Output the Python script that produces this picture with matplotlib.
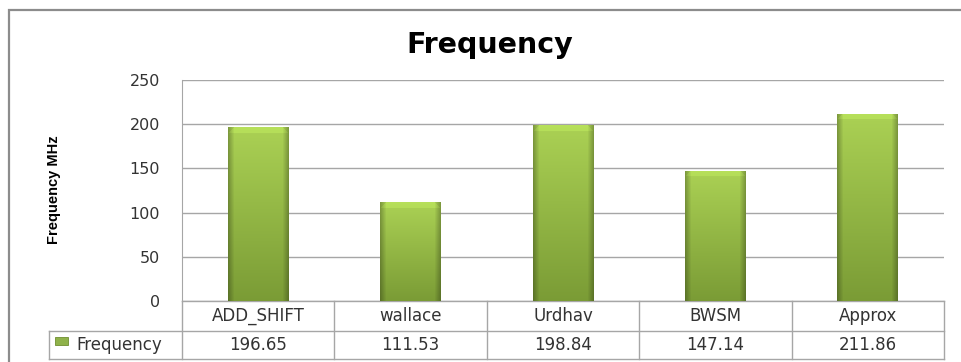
import numpy as np
import matplotlib
matplotlib.use('Agg')
import matplotlib.pyplot as plt
import matplotlib.transforms as mtransforms
from matplotlib.patches import Rectangle

# chart data
categories = ['ADD_SHIFT', 'wallace', 'Urdhav', 'BWSM', 'Approx']
freq_values = [196.65, 111.53, 198.84, 147.14, 211.86]
series_name = 'Frequency'
y_ticks = [0, 50, 100, 150, 200, 250]

W, H = 962, 362
fig = plt.figure(figsize=(W / 100, H / 100), dpi=100)
fig.patch.set_facecolor('white')
grid_col = '#a6a6a6'
txt_col = '#333333'


def px(x0, y0, x1, y1):
    # pixel box (top-left origin) -> figure fraction rect
    return [x0 / W, 1 - y1 / H, (x1 - x0) / W, (y1 - y0) / H]


# outer chart border
fig.patches.append(Rectangle((9 / W, -0.05), 1.05, 1 - 10 / H + 0.05, transform=fig.transFigure,
                             fill=False, edgecolor='#8c8c8c', linewidth=1.6, clip_on=False))

ax = fig.add_axes(px(182, 80, 944, 301))
x = np.arange(len(categories))
bars = ax.bar(x, freq_values, width=0.4, color='#9bbb59', zorder=2)

# bevelled green gradient inside each bar
light = np.array([0.67, 0.82, 0.33])
dark = np.array([0.48, 0.61, 0.21])
nx = 61
u = np.linspace(0, 1, nx)
edge = np.clip(np.minimum(u, 1 - u) / 0.10, 0, 1)
hfac = (0.74 + 0.26 * edge)[None, :, None]
px_per_unit = 221.0 / 250
for b in bars:
    x0 = b.get_x()
    h = b.get_height()
    ny = max(int(round(h * px_per_unit)), 2)
    t = np.linspace(0, 1, ny)[:, None, None]
    img = (light * (1 - t) + dark * t) * hfac
    # small lighter bevel at the top
    bev = 6
    for r in range(min(bev, ny)):
        inset = int((bev - r) / bev * 6)
        img[r, inset:nx - inset] = img[r, inset:nx - inset] * 1.07
    img = np.clip(img, 0, 1)
    im = ax.imshow(img, extent=[x0, x0 + b.get_width(), 0, h],
                   aspect='auto', zorder=3, interpolation='bilinear')
    im.set_clip_path(b)

ax.set_xlim(-0.5, len(categories) - 0.5)
ax.set_ylim(0, 250)
ax.set_yticks(y_ticks)
ax.set_xticks([])
ax.yaxis.grid(True, color=grid_col, linewidth=1.0, zorder=0)
ax.set_axisbelow(True)
for s in ['top', 'right', 'bottom']:
    ax.spines[s].set_visible(False)
ax.spines['left'].set_color(grid_col)
ax.tick_params(axis='y', length=0, pad=16, labelsize=11.5, labelcolor=txt_col)

# data table under the plot (x in data units, y in axes fraction)
tr = mtransforms.blended_transform_factory(ax.transData, ax.transAxes)
ax_h = 221.0
r1 = -30 / ax_h   # bottom of category row
r2 = -58 / ax_h   # bottom of value row
xl = -0.5 - 133 / 152.4  # left of row-label column
lkw = dict(color=grid_col, linewidth=1.0, transform=tr, clip_on=False)
n = len(categories)
ax.plot([-0.5, n - 0.5], [0, 0], **lkw)
ax.plot([xl, n - 0.5], [r1, r1], **lkw)
ax.plot([xl, n - 0.5], [r2, r2], **lkw)
ax.plot([xl, xl], [r1, r2], **lkw)
for i in range(n + 1):
    ax.plot([i - 0.5, i - 0.5], [0, r2], **lkw)
for i, name in enumerate(categories):
    ax.text(i, r1 / 2, name, transform=tr, ha='center', va='center', fontsize=12, color=txt_col)
    ax.text(i, (r1 + r2) / 2, '%.2f' % freq_values[i], transform=tr, ha='center', va='center',
            fontsize=12, color=txt_col)

# legend key in the row label cell
fig.patches.append(Rectangle((55 / W, 1 - 345 / H), 13 / W, 8 / H, transform=fig.transFigure,
                             facecolor='#8fb24a', edgecolor='#6f8f30', linewidth=0.6))
fig.text(76 / W, 1 - 344.5 / H, series_name, fontsize=12, color=txt_col, ha='left', va='center')

fig.text(490 / W, 1 - 45 / H, 'Frequency', fontsize=20.5, fontweight='bold', ha='center', va='center')
fig.text(54 / W, 1 - 190 / H, 'Frequency MHz', fontsize=10.5, fontweight='bold', rotation=90,
         family=['Liberation Sans', 'DejaVu Sans'], ha='center', va='center')

fig.savefig('out.png', dpi=100)
